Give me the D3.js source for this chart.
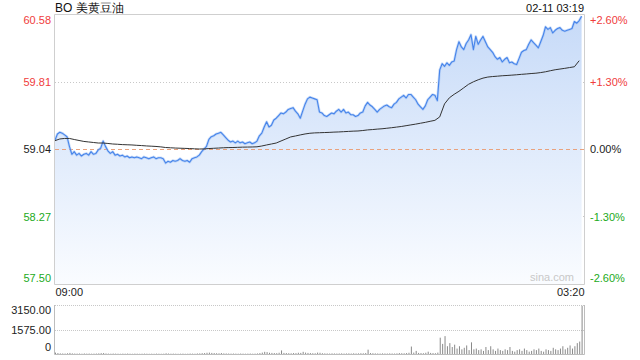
<!DOCTYPE html>
<html><head><meta charset="utf-8">
<script src="https://cdn.jsdelivr.net/npm/d3@7"></script>
<style>
html,body{margin:0;padding:0;background:#fff;}
svg{display:block;font-family:"Liberation Sans",Arial,sans-serif;}
</style></head><body>
<svg id="c" width="640" height="360"></svg>
<script>
const title = "BO 美黄豆油";
const stamp = "02-11 03:19";
const prevClose = 59.04;
const pctRange = 2.6;
const pctTicks = [2.6, 1.3, 0, -1.3, -2.6];
const priceTickLabels = ["60.58", "59.81", "59.04", "58.27", "57.50"];
const pctTickLabels = ["+2.60%", "+1.30%", "0.00%", "-1.30%", "-2.60%"];
const timeLabels = ["09:00", "03:20"];
const sessionMinutes = 1100;
const priceStep = 5;
const prices = [
59.14,59.21,59.23,59.22,59.20,59.18,59.07,58.98,59.01,58.97,
58.99,58.96,58.98,58.99,58.97,59.01,58.98,58.99,59.03,59.05,
59.13,59.07,59.02,58.99,59.01,58.97,58.98,58.96,58.97,58.95,
58.96,58.94,58.95,58.94,58.95,58.94,58.93,58.95,58.94,58.93,
58.94,58.95,58.93,58.94,58.94,58.93,58.88,58.90,58.89,58.91,
58.90,58.91,58.93,58.91,58.90,58.91,58.89,58.93,58.94,58.95,
58.97,59.01,59.04,59.07,59.15,59.18,59.19,59.21,59.22,59.23,
59.20,59.17,59.14,59.12,59.13,59.11,59.13,59.11,59.12,59.10,
59.11,59.12,59.10,59.11,59.13,59.19,59.22,59.29,59.35,59.29,
59.31,59.37,59.39,59.42,59.45,59.44,59.46,59.49,59.50,59.51,
59.47,59.44,59.39,59.47,59.55,59.61,59.63,59.62,59.61,59.60,
59.46,59.45,59.42,59.41,59.43,59.45,59.44,59.47,59.49,59.46,
59.49,59.45,59.46,59.43,59.43,59.41,59.42,59.45,59.46,59.53,
59.57,59.54,59.52,59.49,59.46,59.49,59.51,59.53,59.54,59.52,
59.51,59.55,59.57,59.61,59.63,59.65,59.62,59.66,59.66,59.63,
59.60,59.55,59.52,59.49,59.53,59.60,59.63,59.66,59.65,59.59,
59.94,60.01,59.98,60.02,59.99,60.03,60.04,60.17,60.26,60.20,
60.17,60.24,60.28,60.34,60.17,60.32,60.23,60.28,60.32,60.26,
60.20,60.17,60.14,60.09,60.06,60.08,60.03,60.06,60.08,60.02,
60.03,60.01,60.00,60.07,60.14,60.16,60.17,60.23,60.28,60.25,
60.22,60.19,60.26,60.33,60.43,60.40,60.42,60.36,60.39,60.41,
60.42,60.39,60.38,60.39,60.40,60.41,60.49,60.47,60.50,60.55];
const avgStep = 10;
const avgPrices = [
59.135,59.154,59.160,59.160,59.148,59.137,59.126,59.120,59.114,59.108,
59.108,59.103,59.097,59.094,59.090,59.088,59.086,59.082,59.079,59.075,
59.072,59.069,59.064,59.057,59.054,59.051,59.049,59.047,59.045,59.042,
59.040,59.041,59.045,59.048,59.051,59.054,59.056,59.057,59.059,59.061,
59.062,59.063,59.065,59.074,59.086,59.097,59.108,59.131,59.154,59.177,
59.188,59.200,59.211,59.219,59.223,59.225,59.227,59.229,59.232,59.234,
59.237,59.240,59.243,59.245,59.250,59.257,59.261,59.266,59.270,59.276,
59.282,59.289,59.296,59.305,59.314,59.323,59.333,59.343,59.355,59.366,
59.405,59.553,59.622,59.662,59.696,59.736,59.776,59.804,59.827,59.846,
59.858,59.864,59.868,59.873,59.876,59.880,59.884,59.889,59.893,59.898,
59.902,59.909,59.918,59.930,59.941,59.949,59.957,59.966,59.975,60.044];
const volumes = [
90,60,40,35,30,45,70,40,30,25,30,20,35,25,30,20,25,30,40,55,
60,35,25,20,30,25,20,15,25,20,30,20,15,25,20,15,20,25,20,15,
20,15,25,20,15,20,45,30,20,25,20,15,20,25,15,20,30,25,20,35,
40,55,60,80,90,70,60,50,45,60,40,35,30,25,30,25,20,30,25,20,
25,30,20,25,35,60,90,140,120,80,70,60,55,80,230,70,60,50,45,60,
55,80,70,140,90,70,60,50,45,90,80,50,40,35,30,40,35,30,35,40,
30,35,40,30,45,35,40,50,45,60,280,60,50,40,35,30,40,35,30,40,
35,30,40,60,50,45,60,80,480,90,200,70,60,50,80,150,70,60,50,90,
1050,650,1150,500,700,450,600,350,500,300,400,550,250,750,300,350,250,300,200,450,
250,500,300,200,350,250,200,300,250,450,200,150,250,300,200,350,250,150,200,300,
250,350,200,150,300,250,200,400,300,250,350,500,300,400,550,350,500,700,800,3100];
const volTicks = [0, 1575, 3150];
const volTickLabels = ["0", "1575.00", "3150.00"];

const L = 55, R = 584, T = 14, B = 284, VT = 305, VB = 354;
const red = "#f03c3c", green = "#22aa22", dark = "#222";
const svg = d3.select("#c");

const x = d3.scaleLinear().domain([0, sessionMinutes]).range([L, R]);
const y = d3.scaleLinear().domain([prevClose * (1 - pctRange / 100), prevClose * (1 + pctRange / 100)]).range([B, T]);
const yv = d3.scaleLinear().domain([0, 3150]).range([VB, VT]);

const defs = svg.append("defs");
const grad = defs.append("linearGradient").attr("id", "fillg")
  .attr("gradientUnits", "userSpaceOnUse").attr("x1", 0).attr("x2", 0).attr("y1", T).attr("y2", B);
grad.append("stop").attr("offset", 0).attr("stop-color", "#c6daf8");
grad.append("stop").attr("offset", 1).attr("stop-color", "#fafcff");

// gridlines
const tickPrices = pctTicks.map(p => prevClose * (1 + p / 100));
svg.append("g").selectAll("line").data(pctTicks.filter(p => p !== 0 && Math.abs(p) !== pctRange)).join("line")
  .attr("x1", L).attr("x2", R)
  .attr("y1", p => Math.round(y(prevClose * (1 + p / 100))) + 0.5)
  .attr("y2", p => Math.round(y(prevClose * (1 + p / 100))) + 0.5)
  .attr("stroke", "#c8c8c8").attr("stroke-dasharray", "1,2");

// area + lines
const pts = prices.map((p, i) => ({ t: i * priceStep, p }));
const area = d3.area().x(d => x(d.t)).y0(B).y1(d => y(d.p));
svg.append("path").datum(pts).attr("d", area).attr("fill", "url(#fillg)");

// zero line
svg.append("line").attr("x1", L).attr("x2", R)
  .attr("y1", Math.round(y(prevClose)) + 0.5).attr("y2", Math.round(y(prevClose)) + 0.5)
  .attr("stroke", "#e9a27e").attr("stroke-dasharray", "4,3");

const line = d3.line().x(d => x(d.t)).y(d => y(d.p));
svg.append("path").datum(pts).attr("d", line).attr("fill", "none")
  .attr("stroke", "#9cc0f4").attr("stroke-width", 2.6).attr("stroke-opacity", 0.55).attr("stroke-linejoin", "round");
svg.append("path").datum(pts).attr("d", line).attr("fill", "none")
  .attr("stroke", "#4684ea").attr("stroke-width", 1.1).attr("stroke-linejoin", "round");

const avgPts = avgPrices.map((p, i) => ({ t: i * avgStep, p }));
svg.append("path").datum(avgPts).attr("d", line).attr("fill", "none")
  .attr("stroke", "#333").attr("stroke-width", 1);

// frame
svg.append("path").attr("d", `M${L - 0.5},${T + 0.5}H${R + 0.5}V${B + 0.5}H${L - 0.5}Z`)
  .attr("fill", "none").attr("stroke", "#cfcfcf");

// watermark
svg.append("text").attr("x", R - 10).attr("y", B - 6).attr("text-anchor", "end")
  .attr("dominant-baseline", "middle").attr("font-size", 11).attr("fill", "#c8c8c8").text("sina.com");

// axes
const colorOf = p => p > 0 ? red : (p < 0 ? green : dark);
const axL = svg.append("g").attr("transform", `translate(${L},0)`)
  .call(d3.axisLeft(y).tickValues(tickPrices).tickFormat((d, i) => priceTickLabels[i]).tickSize(0).tickPadding(4));
const axR = svg.append("g").attr("transform", `translate(${R},0)`)
  .call(d3.axisRight(y).tickValues(tickPrices).tickFormat((d, i) => pctTickLabels[i]).tickSize(0).tickPadding(6));
[axL, axR].forEach(ax => {
  ax.select(".domain").remove();
  ax.selectAll("text").attr("font-size", 11).attr("font-family", "Liberation Sans, Arial, sans-serif")
    .attr("fill", (d, i) => colorOf(pctTicks[i]))
    .attr("dy", (d, i) => i === 0 ? "0.85em" : (i === pctTicks.length - 1 ? "-0.2em" : "0.32em"));
});

const axX = svg.append("g").attr("transform", `translate(0,${B + 2})`)
  .call(d3.axisBottom(x).tickValues([0, sessionMinutes]).tickFormat((d, i) => timeLabels[i]).tickSize(0).tickPadding(2));
axX.select(".domain").remove();
axX.selectAll("text").attr("font-size", 11).attr("fill", dark).attr("font-family", "Liberation Sans, Arial, sans-serif")
  .attr("text-anchor", (d, i) => i === 0 ? "start" : "end");

// title
svg.append("text").attr("x", L).attr("y", 11.5).attr("font-size", 12).attr("fill", "#111").text(title);
svg.append("text").attr("x", R).attr("y", 11.5).attr("text-anchor", "end").attr("font-size", 11).attr("fill", "#111").text(stamp);

// volume panel
svg.append("line").attr("x1", L).attr("x2", R).attr("y1", VT + 0.5).attr("y2", VT + 0.5)
  .attr("stroke", "#c8c8c8").attr("stroke-dasharray", "1,1");
svg.append("line").attr("x1", L).attr("x2", R).attr("y1", Math.round(yv(1575)) + 0.5).attr("y2", Math.round(yv(1575)) + 0.5)
  .attr("stroke", "#c8c8c8").attr("stroke-dasharray", "1,1");
svg.append("g").selectAll("rect").data(volumes).join("rect")
  .attr("x", (v, i) => x(i * priceStep)).attr("width", 1)
  .attr("y", v => yv(v)).attr("height", v => VB - yv(v))
  .attr("fill", "#8a8a8a");
svg.append("path").attr("d", `M${L - 0.5},${VT}V${VB + 0.5}H${R + 0.5}V${VT}`)
  .attr("fill", "none").attr("stroke", "#bdbdbd");

const axV = svg.append("g").attr("transform", `translate(${L},0)`)
  .call(d3.axisLeft(yv).tickValues(volTicks).tickFormat((d, i) => volTickLabels[i]).tickSize(0).tickPadding(4));
axV.select(".domain").remove();
axV.selectAll("text").attr("font-size", 11).attr("fill", dark).attr("font-family", "Liberation Sans, Arial, sans-serif")
  .attr("dy", (d, i) => i === 0 ? "-0.3em" : (i === volTicks.length - 1 ? "0.8em" : "0.32em"));
</script>
</body></html>
